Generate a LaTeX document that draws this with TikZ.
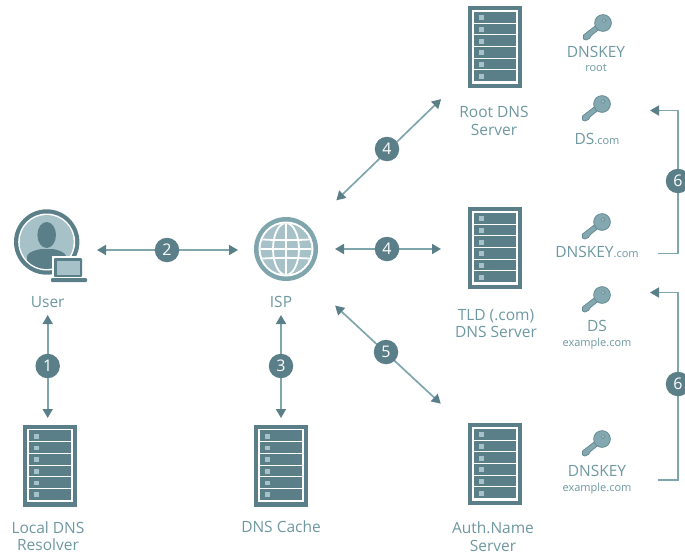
\documentclass[tikz,border=0pt]{standalone}
\usepackage{fontspec}
\setmainfont{Open Sans}
\usetikzlibrary{arrows.meta,calc}
\definecolor{dk}{HTML}{5B7F88}
\definecolor{lnc}{HTML}{7FA5AD}
\definecolor{lt}{HTML}{A6C2C8}
\definecolor{txc}{HTML}{6E98A1}
\newcommand{\smalltxt}{\fontsize{11}{11}\selectfont}
\tikzset{
  x=1pt,y=-1pt,
  lab/.style={text=txc,inner sep=0pt,align=center,font=\fontsize{15.5}{17.5}\selectfont},
  serverbox/.style={rectangle,fill=dk,minimum width=54pt,minimum height=82pt,inner sep=0pt},
  iconspot/.style={circle,inner sep=0pt,minimum size=64pt},
  badge/.style={circle,fill=dk,text=white,inner sep=0pt,minimum size=24.5pt,font=\fontsize{16}{16}\selectfont},
  conn/.style={draw=lnc,line width=1.7pt,{Triangle[length=9pt,width=10pt,color=dk]}-{Triangle[length=9pt,width=10pt,color=dk]}},
  elbow/.style={draw=lnc,line width=1.7pt,-{Triangle[length=9pt,width=10pt,color=dk]}},
  serverpic/.pic={
    \draw[white,line width=1.2pt] (-22,-36) rectangle (22,36);
    \foreach \r in {-29.2,-17.5,-5.8,5.8,17.5,29.2}{
      \fill[dk,rounded corners=1.5pt] (-20.5,\r-4.8) rectangle (20.5,\r+4.8);
      \draw[white,line width=.9pt] (-21.5,\r+5.4) -- (21.5,\r+5.4);
      \fill[lt] (-16,\r-2.4) rectangle (-11,\r+2.4);
    }
  },
  keypic/.pic={
    \path[fill=lnc!90!lt,draw=dk!80!lnc,line width=.7pt,line join=round]
      (-6.5,2) -- (-19.5,12) -- (-19.5,16) -- (-17,17) -- (-13.5,15.5) -- (-12,13) -- (-11,12) -- (-3.5,6) -- cycle;
    \path[fill=lnc!90!lt,draw=dk!80!lnc,line width=.7pt] (0,0) circle (8.4pt);
    \path[fill=lt,draw=dk!80!lnc,line width=.5pt] (1,-2.5) circle (1.9pt);
  }
}
\begin{document}
\begin{tikzpicture}
\useasboundingbox (0,0) rectangle (685,554);
\clip (0,0) rectangle (685,554);

% servers
\node[serverbox] (root) at (495,47) {};
\node[serverbox] (tld) at (495,248) {};
\node[serverbox] (auth) at (495,464) {};
\node[serverbox] (local) at (50,465.5) {};
\node[serverbox] (cache) at (281,465.5) {};
\foreach \n in {root,tld,auth,local,cache}{\pic at (\n) {serverpic};}

% user icon
\node[iconspot,fill=dk,minimum size=65.4pt] (user) at (46.7,242) {};
\fill[white] (user) circle (28.5pt);
\fill[lt] (user) circle (27pt);
\begin{scope}
  \clip (user) circle (27pt);
  \fill[dk] (27,270) -- (27,256) .. controls (28,252) and (36,250) .. (41,249) -- (53,249) .. controls (58,250) and (65,252) .. (66,256) -- (66,270) -- cycle;
  \fill[dk] (46.7,235) ellipse [x radius=9.3,y radius=13];
\end{scope}
\fill[white] (52,256) rectangle (84,279);
\fill[dk,rounded corners=1pt] (54,258) rectangle (82,277);
\fill[lt] (56.5,260.5) rectangle (79.5,275);
\fill[white] (49.5,277) rectangle (88,283.5);
\fill[dk,rounded corners=1pt] (51,278) rectangle (87,282);

% globe icon
\node[iconspot,fill=lnc] (isp) at (286,249) {};
\fill[white] (isp) circle (27.5pt);
\begin{scope}
  \clip (isp) circle (25.5pt);
  \fill[lt] (isp) circle (25.5pt);
  \draw[white,line width=1.8pt] (286,220) -- (286,278);
  \draw[white,line width=1.8pt] (286,249) ellipse [x radius=13,y radius=26];
  \draw[white,line width=1.8pt] (256,249) -- (316,249);
  \draw[white,line width=1.8pt] (258,239) .. controls (270,240.5) and (302,240.5) .. (314,239);
  \draw[white,line width=1.8pt] (258,259) .. controls (270,257.5) and (302,257.5) .. (314,259);
\end{scope}

% keys
\coordinate (k1) at (603,23);
\coordinate (k2) at (602,104);
\coordinate (k3) at (602,222);
\coordinate (k4) at (602,295);
\coordinate (k5) at (602,439);
\foreach \k in {k1,k2,k3,k4,k5}{\pic at (\k) {keypic};}

% labels
\node[lab] (lUser) at (47.7,302) {User};
\node[lab] (lIsp) at (281,302) {ISP};
\node[lab] (lRoot) at (494,121) {Root DNS\\Server};
\node[lab] (lTld) at (496,323.5) {TLD (.com)\\DNS Server};
\node[lab] (lAuth) at (493,536.5) {Auth.Name\\Server};
\node[lab] (lLocal) at (48,536) {Local DNS\\Resolver};
\node[lab] (lCache) at (281,527) {DNS Cache};
\node[lab] (kRoot) at (596,59) {DNSKEY\\[-3.5pt]{\smalltxt root}};
\node[lab] (kDs) at (597,139) {DS{\smalltxt .com}};
\node[lab] (kCom) at (597,252) {DNSKEY{\smalltxt .com}};
\node[lab] (kDsEx) at (597,335) {DS\\[-2.5pt]{\smalltxt example.com}};
\node[lab] (kEx) at (597,480) {DNSKEY\\[-2.5pt]{\smalltxt example.com}};

% connectors
\draw[conn,shorten <=73pt,shorten >=47.5pt] ([xshift=1pt]user.center) -- ([xshift=-2.3pt]local.center);
\draw[conn,shorten <=50.3pt,shorten >=48pt] ([yshift=-8pt]user.center) -- ([yshift=-1pt]isp.center);
\draw[conn,shorten <=66pt,shorten >=47.5pt] ([xshift=-5pt]isp.center) -- (cache.center);
\draw[conn,shorten <=70pt,shorten >=75pt] (isp.center) -- (root.center);
\draw[conn,shorten <=49pt,shorten >=54pt] (isp.center) -- ([yshift=-1pt]tld.center);
\draw[conn,shorten <=67pt,shorten >=74pt] ([yshift=-11pt]isp.center) -- ([yshift=10pt]auth.center);

\coordinate (c6a) at (658,253.5);
\coordinate (c6b) at (650,110.5);
\coordinate (c6c) at (658,480);
\coordinate (c6d) at (650,292.5);
\coordinate (rail6a) at (678,181);
\coordinate (rail6b) at (678,384);
\draw[elbow] (c6a) -| (rail6a) |- (c6b);
\draw[elbow] (c6c) -| (rail6b) |- (c6d);

% badges
\node[badge] (b1) at (47.7,366) {1};
\node[badge] (b2) at (167,250) {2};
\node[badge] (b3) at (281,366) {3};
\node[badge] (b4a) at (387,149) {4};
\node[badge] (b4b) at (387,249) {4};
\node[badge] (b5) at (386,352) {5};
\node[badge] (b6a) at (rail6a) {6};
\node[badge] (b6b) at (rail6b) {6};
\end{tikzpicture}
\end{document}
